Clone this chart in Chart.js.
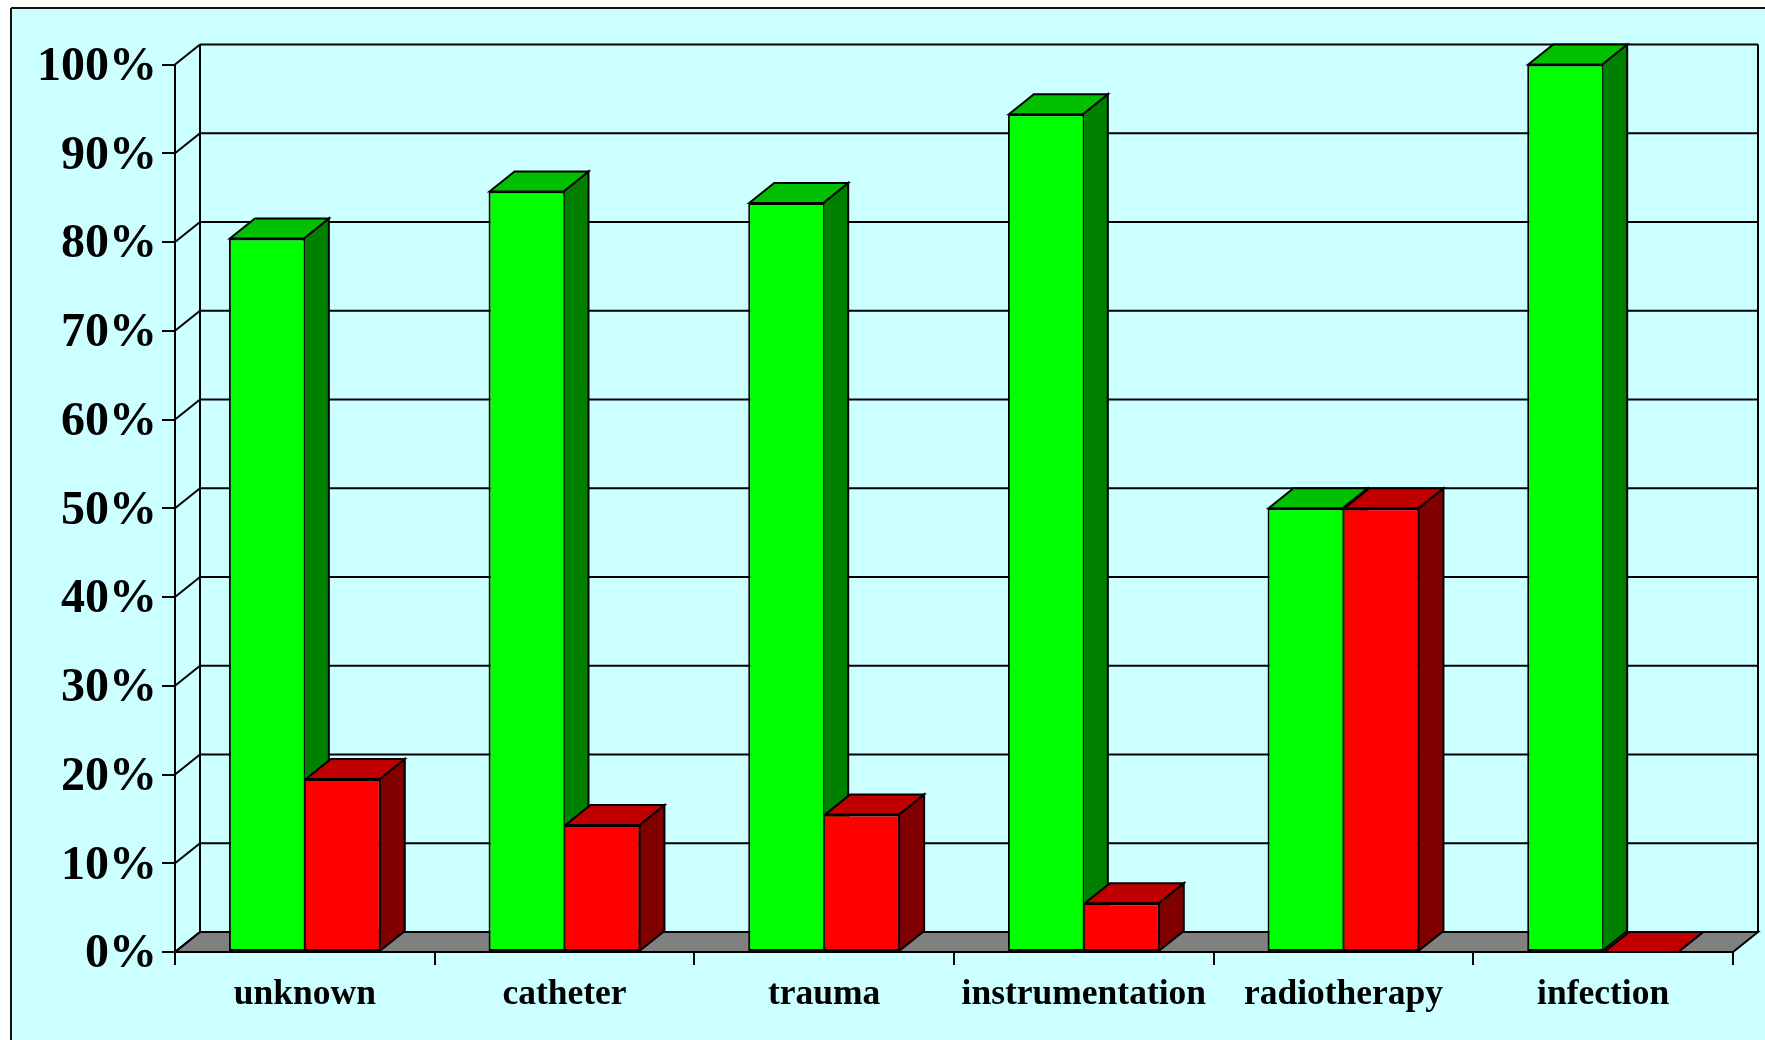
<!DOCTYPE html>
<html>
<head>
<meta charset="utf-8">
<title>chart</title>
<script src="https://cdn.jsdelivr.net/npm/chart.js@4"></script>
<style>
body { margin: 0; background: #fff; }
canvas { display: block; }
</style>
</head>
<body>
<canvas id="chart" width="1765" height="1040"></canvas>
<script>
const categories = ['unknown', 'catheter', 'trauma', 'instrumentation', 'radiotherapy', 'infection'];
const greenValues = [80.4, 85.7, 84.4, 94.4, 50, 100];
const redValues = [19.5, 14.3, 15.5, 5.5, 50, 0];

// depth of the fake 3d box
const depthX = 25;
const depthY = 20;

function poly(ctx, pts, fill) {
    ctx.beginPath();
    ctx.moveTo(pts[0][0], pts[0][1]);
    for (let i = 1; i < pts.length; i++) ctx.lineTo(pts[i][0], pts[i][1]);
    ctx.closePath();
    if (fill) {
        ctx.fillStyle = fill;
        ctx.fill();
    }
    ctx.stroke();
}

function line(ctx, x1, y1, x2, y2) {
    ctx.beginPath();
    ctx.moveTo(x1, y1);
    ctx.lineTo(x2, y2);
    ctx.stroke();
}

const box3d = {
    id: 'box3d',
    afterLayout(chart) {
        // labels sit a bit lower than the tick in the original
        chart.scales.y.getLabelItems().forEach(item => { item.textOffset += 3; });
    },
    beforeDraw(chart) {
        const ctx = chart.ctx;
        ctx.save();
        ctx.fillStyle = '#CCFFFF';
        ctx.fillRect(11, 8, chart.width, chart.height);
        ctx.strokeStyle = '#111';
        ctx.lineWidth = 2;
        line(ctx, 11, 8, chart.width, 8);
        line(ctx, 11, 8, 11, chart.height);
        ctx.restore();
    },
    beforeDatasetsDraw(chart) {
        const ctx = chart.ctx;
        const a = chart.chartArea;
        const y = chart.scales.y;
        ctx.save();
        ctx.strokeStyle = '#000';
        ctx.lineWidth = 2;
        // floor
        poly(ctx, [[a.left, a.bottom], [a.left + depthX, a.bottom - depthY],
            [a.right + depthX, a.bottom - depthY], [a.right, a.bottom]], '#808080');
        // walls and grid
        y.ticks.forEach(t => {
            const py = y.getPixelForValue(t.value);
            line(ctx, a.left, py, a.left + depthX, py - depthY);
            line(ctx, a.left + depthX, py - depthY, a.right + depthX, py - depthY);
        });
        line(ctx, a.left + depthX, a.top - depthY, a.left + depthX, a.bottom - depthY);
        line(ctx, a.right + depthX, a.top - depthY, a.right + depthX, a.bottom - depthY);
        // side and top faces, green first so the red ones cover it
        chart.data.datasets.forEach((ds, i) => {
            chart.getDatasetMeta(i).data.forEach(bar => {
                const p = bar.getProps(['x', 'y', 'base', 'width'], true);
                const l = p.x - p.width / 2 + 1;
                const r = p.x + p.width / 2 - 1;
                poly(ctx, [[r, p.y], [r + depthX, p.y - depthY], [r + depthX, p.base - depthY], [r, p.base]], ds.sideColor);
                poly(ctx, [[l, p.y], [l + depthX, p.y - depthY], [r + depthX, p.y - depthY], [r, p.y]], ds.topColor);
            });
        });
        ctx.restore();
    }
};

const ctx = document.getElementById('chart').getContext('2d');
const myChart = new Chart(ctx, {
    type: 'bar',
    data: {
        labels: categories,
        datasets: [{
            label: 'green',
            data: greenValues,
            backgroundColor: '#00FF00',
            sideColor: '#008000',
            topColor: '#00C000',
            borderColor: '#000',
            borderWidth: { top: 2, left: 2, right: 1, bottom: 2 },
            borderSkipped: false,
            clip: false
        }, {
            label: 'red',
            data: redValues,
            backgroundColor: '#FF0000',
            sideColor: '#800000',
            topColor: '#C00000',
            borderColor: '#000',
            borderWidth: { top: 2, left: 1, right: 2, bottom: 2 },
            borderSkipped: false,
            clip: false
        }]
    },
    options: {
        responsive: false,
        animation: false,
        layout: { padding: { top: 64.5, right: 32 } },
        datasets: { bar: { barPercentage: 1, categoryPercentage: 0.585 } },
        plugins: { legend: { display: false }, tooltip: { enabled: false } },
        scales: {
            x: {
                afterFit(scale) { scale.height = 88; },
                grid: { drawOnChartArea: false, tickLength: 13, color: '#000', lineWidth: 2 },
                border: { color: '#000', width: 2 },
                ticks: {
                    color: '#000',
                    maxRotation: 0,
                    autoSkip: false,
                    padding: 9,
                    font: { family: '"Liberation Serif"', size: 35.5, weight: 'bold' }
                }
            },
            y: {
                min: 0,
                max: 100,
                afterFit(scale) { scale.width = 175; },
                grid: { drawOnChartArea: false, tickLength: 13, color: '#000', lineWidth: 2 },
                border: { color: '#000', width: 2 },
                ticks: {
                    stepSize: 10,
                    color: '#000',
                    padding: 5,
                    font: { family: '"Liberation Serif"', size: 48, weight: 'bold' },
                    callback: v => v + '%'
                }
            }
        }
    },
    plugins: [box3d]
});
</script>
</body>
</html>
